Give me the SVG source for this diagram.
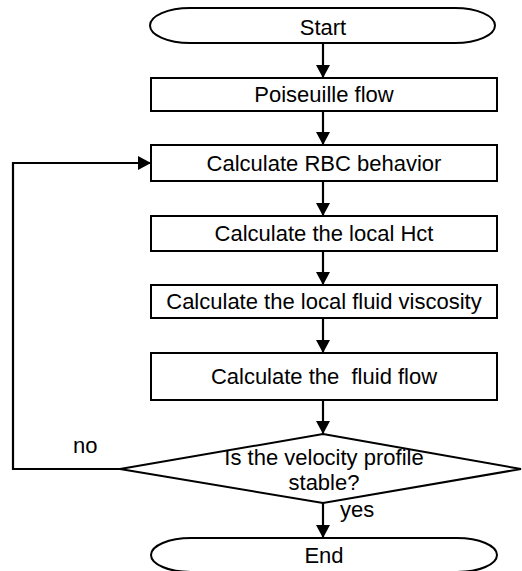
<svg xmlns="http://www.w3.org/2000/svg" width="522" height="571" viewBox="0 0 522 571">
<style>
.shape{fill:#fff;stroke:#000;stroke-width:2}
.t{font-family:"Liberation Sans",Arial,sans-serif;font-size:22px;fill:#000;text-anchor:middle}
.l{font-family:"Liberation Sans",Arial,sans-serif;font-size:22px;fill:#000}
.c{fill:none;stroke:#000;stroke-width:2.2}
</style>
<defs>
<marker id="ah" markerUnits="userSpaceOnUse" markerWidth="14" markerHeight="14" refX="13" refY="7" orient="auto">
<path d="M0,0 L13,7 L0,14 Z" fill="#000"/>
</marker>
</defs>
<rect width="522" height="571" fill="#fff"/>
<g id="connectors">
<line class="c" x1="323" y1="43" x2="323" y2="78" marker-end="url(#ah)"/>
<line class="c" x1="323" y1="111" x2="323" y2="145" marker-end="url(#ah)"/>
<line class="c" x1="323" y1="181" x2="323" y2="216" marker-end="url(#ah)"/>
<line class="c" x1="323" y1="251" x2="323" y2="285" marker-end="url(#ah)"/>
<line class="c" x1="323" y1="318" x2="323" y2="353" marker-end="url(#ah)"/>
<line class="c" x1="323" y1="400" x2="323" y2="434" marker-end="url(#ah)"/>
<line class="c" x1="323" y1="503" x2="323" y2="538" marker-end="url(#ah)"/>
<polyline class="c" points="120,469 13,469 13,163 151,163" marker-end="url(#ah)"/>
<text class="l" x="73" y="453">no</text>
<text class="l" x="340" y="517">yes</text>
</g>
<g id="start">
<path class="shape" d="M190,8 H455 A40 17.5 0 0 1 455,43 H190 A40 17.5 0 0 1 190,8 Z"/>
<text class="t" x="323" y="35">Start</text>
</g>
<g id="poiseuille">
<rect class="shape" x="151" y="78" width="346" height="33"/>
<text class="t" x="324" y="102">Poiseuille flow</text>
</g>
<g id="rbc">
<rect class="shape" x="151" y="145" width="346" height="36"/>
<text class="t" x="324" y="171">Calculate RBC behavior</text>
</g>
<g id="hct">
<rect class="shape" x="151" y="216" width="346" height="35"/>
<text class="t" x="324" y="241">Calculate the local Hct</text>
</g>
<g id="viscosity">
<rect class="shape" x="151" y="285" width="346" height="33"/>
<text class="t" x="324" y="309">Calculate the local fluid viscosity</text>
</g>
<g id="fluidflow">
<rect class="shape" x="151" y="353" width="346" height="47"/>
<text class="t" x="324" y="384" xml:space="preserve">Calculate the  fluid flow</text>
</g>
<g id="decision">
<polygon class="shape" points="323,434 521,469 323,503 120,469"/>
<text class="t" x="324" y="465">Is the velocity profile</text>
<text class="t" x="324" y="490">stable?</text>
</g>
<g id="end">
<path class="shape" d="M191,538 H457 A40 17 0 0 1 457,572 H191 A40 17 0 0 1 191,538 Z"/>
<text class="t" x="324" y="563">End</text>
</g>
</svg>
